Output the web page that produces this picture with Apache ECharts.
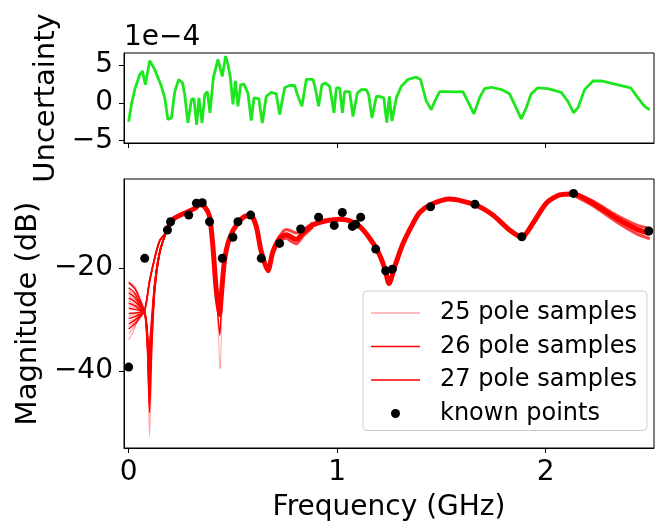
<!DOCTYPE html>
<html>
<head>
<meta charset="utf-8">
<script src="https://cdn.jsdelivr.net/npm/echarts@6/dist/echarts.min.js"></script>
<style>
  html, body { margin: 0; padding: 0; background: #fff; }
  #chart { width: 661px; height: 522px; }
</style>
</head>
<body>
<div id="chart"></div>
<script>
// top panel: uncertainty (x1e-4) vs frequency (GHz)
const uncertainty = [
    [0.000, -2.5], [0.013, -0.2], [0.029, 1.76], [0.053, 3.75], [0.066, 4.2], [0.080, 2.4],
    [0.101, 5.6], [0.125, 4.4], [0.157, 2.2], [0.173, 0.66], [0.188, -2.2], [0.205, -2.0],
    [0.221, 1.5], [0.240, 3.1], [0.258, 2.65], [0.269, 1.1], [0.284, -2.65], [0.301, 0.44],
    [0.313, 0.57], [0.326, -2.9], [0.337, 0.66], [0.352, -2.65], [0.365, 1.1], [0.377, 1.5],
    [0.390, -1.3], [0.406, 3.3], [0.428, 5.75], [0.436, 5.95], [0.449, 3.5], [0.465, 6.2],
    [0.476, 5.1], [0.488, 3.3], [0.500, -0.2], [0.512, 2.9], [0.524, -0.45], [0.537, 2.4],
    [0.553, 2.5], [0.572, 1.3], [0.588, -2.35], [0.601, 0.66], [0.624, 0.57], [0.641, -2.65],
    [0.660, 0.88], [0.684, 1.4], [0.708, 1.2], [0.724, -1.55], [0.748, 2.0], [0.772, 2.3],
    [0.796, 2.33], [0.809, 1.1], [0.831, -0.45], [0.852, 3.1], [0.884, 3.1], [0.895, 2.0],
    [0.911, -0.45], [0.927, 2.4], [0.943, 2.65], [0.964, 2.2], [0.985, -1.3], [0.996, 2.0],
    [1.012, 2.0], [1.025, -1.3], [1.036, 1.5], [1.060, 1.5], [1.076, -1.8], [1.084, -1.9],
    [1.097, 1.3], [1.116, 1.76], [1.140, 1.76], [1.151, 1.1], [1.167, -2.0], [1.188, 0.88],
    [1.212, 0.8], [1.224, 0.66], [1.238, -2.6], [1.250, 0.88], [1.263, -2.4], [1.284, 0.66],
    [1.308, 2.2], [1.340, 3.1], [1.380, 3.4], [1.400, 3.1], [1.428, 0.2], [1.452, -0.9],
    [1.468, 0.2], [1.492, 1.5], [1.524, 1.5], [1.564, 1.45], [1.603, 1.5], [1.627, 0.2],
    [1.656, -1.45], [1.683, 0.66], [1.707, 1.9], [1.740, 2.07], [1.788, 1.76], [1.827, 1.2],
    [1.851, -0.2], [1.883, -2.1], [1.907, -0.66], [1.931, 1.2], [1.963, 2.0], [2.011, 1.9],
    [2.075, 1.4], [2.107, 0.2], [2.134, -1.3], [2.155, -0.66], [2.187, 1.76], [2.227, 2.9],
    [2.267, 2.9], [2.347, 2.4], [2.408, 2.0], [2.443, 0.66], [2.475, -0.45], [2.499, -0.9]
];
const arrowFreq = 0.5;
const arrowFrom = -5.6;
const arrowTo = -2.9;

// bottom panel: magnitude (dB)
const knownPoints = [
    [0, -39.2], [0.077, -18.1], [0.186, -12.6], [0.201, -11.0], [0.288, -9.7], [0.325, -7.4],
    [0.353, -7.3], [0.388, -11.0], [0.449, -18.1], [0.5, -14.0], [0.524, -11.0], [0.585, -9.7],
    [0.636, -18.1], [0.724, -15.2], [0.825, -12.4], [0.911, -10.1], [0.986, -11.7], [1.025, -9.2],
    [1.073, -11.9], [1.089, -11.5], [1.113, -10.1], [1.185, -16.3], [1.233, -20.5], [1.265, -20.2],
    [1.448, -8.1], [1.661, -7.6], [1.886, -13.9], [2.134, -5.5], [2.495, -12.8]
];

// shared path of all samples above 0.18 GHz
const mainPath = [
    [0.18, -13.0], [0.2, -11.3], [0.22, -10.3], [0.27, -9.3], [0.317, -8.4], [0.34, -7.7],
    [0.365, -8.1], [0.388, -10.0], [0.404, -15.8], [0.42, -24.2], [0.436, -29.0], [0.444, -25.5],
    [0.46, -18.4], [0.484, -14.2], [0.524, -11.2], [0.564, -9.9], [0.588, -9.9], [0.612, -11.9],
    [0.636, -16.8], [0.668, -20.5], [0.692, -16.8], [0.724, -14.2], [0.756, -13.5], [0.804, -14.4],
    [0.836, -13.2], [0.884, -11.6], [0.948, -10.8], [1.012, -10.5], [1.06, -10.8], [1.108, -11.9],
    [1.156, -14.2], [1.196, -16.8], [1.228, -20.0], [1.249, -23.0], [1.276, -19.7], [1.316, -15.2],
    [1.364, -11.3], [1.396, -9.2], [1.448, -7.7], [1.54, -6.6], [1.661, -7.7], [1.747, -9.7],
    [1.827, -12.6], [1.886, -14.0], [1.939, -11.3], [2.003, -7.4], [2.067, -5.8], [2.134, -5.6],
    [2.227, -7.4], [2.339, -10.3], [2.435, -12.4], [2.5, -13.3]
];

// low-frequency starts of individual samples (the fan and the dip near 0.1 GHz)
const start25 = [
    [[0, -22.6], [0.03, -23.6], [0.055, -25.8], [0.075, -28.0], [0.1, -22.3], [0.125, -17.8], [0.149, -14.5]],
    [[0, -33.9], [0.02, -32.5], [0.045, -30.0], [0.075, -28.5], [0.1, -22.8], [0.125, -18.2], [0.149, -14.8]],
    [[0, -32.8], [0.03, -31.2], [0.055, -29.6], [0.075, -28.5], [0.09, -34.0], [0.1, -44.0], [0.11, -36.0], [0.125, -24.0], [0.149, -17.1]],
    [[0, -29.3], [0.03, -29.0], [0.055, -28.6], [0.075, -28.3], [0.09, -36.0], [0.1, -52.6], [0.112, -36.0], [0.125, -25.0], [0.149, -17.1]],
    [[0, -26.3], [0.03, -27.0], [0.055, -27.8], [0.075, -28.1], [0.09, -33.0], [0.098, -41.0], [0.108, -34.0], [0.125, -23.5], [0.149, -16.9]],
    [[0, -24.3], [0.03, -25.3], [0.055, -27.0], [0.075, -28.1], [0.1, -22.5], [0.125, -17.9], [0.149, -14.6]],
    [[0, -25.3], [0.03, -26.1], [0.055, -27.4], [0.075, -28.2], [0.089, -34.0], [0.099, -43.0], [0.109, -35.0], [0.125, -23.8], [0.149, -17.0]],
    [[0, -27.3], [0.03, -27.6], [0.055, -28.1], [0.075, -28.3], [0.088, -31.0], [0.096, -35.5], [0.106, -31.5], [0.125, -22.6], [0.149, -16.6]],
    [[0, -30.3], [0.03, -29.8], [0.055, -29.0], [0.075, -28.4], [0.09, -35.0], [0.099, -46.0], [0.11, -35.0], [0.125, -24.2], [0.149, -17.0]],
    [[0, -31.3], [0.03, -30.5], [0.055, -29.4], [0.075, -28.5], [0.1, -22.8], [0.125, -18.1], [0.149, -14.7]]
];
const start26 = [
    [[0, -22.8], [0.03, -24.0], [0.055, -26.2], [0.075, -28.0], [0.1, -22.4], [0.125, -17.9], [0.149, -14.6]],
    [[0, -24.8], [0.03, -25.7], [0.055, -27.2], [0.075, -28.2], [0.089, -33.0], [0.098, -40.0], [0.108, -33.5], [0.125, -23.2], [0.149, -16.9]],
    [[0, -26.8], [0.03, -27.3], [0.055, -28.0], [0.075, -28.3], [0.088, -32.0], [0.097, -38.0], [0.107, -33.0], [0.125, -23.0], [0.149, -16.8]],
    [[0, -28.8], [0.03, -28.7], [0.055, -28.5], [0.075, -28.3], [0.09, -34.0], [0.098, -42.0], [0.109, -34.0], [0.125, -23.6], [0.149, -16.9]],
    [[0, -30.8], [0.03, -30.1], [0.055, -29.2], [0.075, -28.4], [0.1, -22.7], [0.125, -18.1], [0.149, -14.7]]
];
const start27 = [
    [[0, -23.8], [0.03, -24.9], [0.055, -26.8], [0.075, -28.1], [0.088, -31.5], [0.096, -36.5], [0.106, -32.0], [0.125, -22.8], [0.149, -16.7]],
    [[0, -25.8], [0.03, -26.5], [0.055, -27.6], [0.075, -28.2], [0.09, -35.0], [0.099, -45.0], [0.11, -34.0], [0.125, -24.0], [0.149, -17.0]],
    [[0, -27.8], [0.03, -28.0], [0.055, -28.2], [0.075, -28.3], [0.1, -22.6], [0.125, -18.0], [0.149, -14.7]],
    [[0, -29.8], [0.03, -29.4], [0.055, -28.9], [0.075, -28.4], [0.089, -33.0], [0.097, -39.0], [0.108, -33.0], [0.125, -23.2], [0.149, -16.8]],
    [[0, -31.8], [0.03, -30.8], [0.055, -29.5], [0.075, -28.5], [0.09, -36.0], [0.1, -48.0], [0.111, -35.0], [0.125, -24.5], [0.149, -17.1]]
];

// places where the sample band spreads out
const dipPale = [[0.404, -15.8], [0.424, -27.0], [0.439, -39.5], [0.449, -26.0], [0.462, -18.4]];
const dip27 = [[0.404, -15.8], [0.422, -26.0], [0.437, -33.0], [0.447, -25.0], [0.46, -18.4]];
const bumpHigh = [[0.692, -16.5], [0.724, -13.8], [0.756, -12.5], [0.78, -12.8], [0.804, -13.2], [0.836, -12.6], [0.884, -11.2]];
const bumpLow = [[0.692, -17.2], [0.724, -14.6], [0.756, -14.2], [0.78, -14.8], [0.804, -15.3], [0.836, -13.8], [0.884, -12.0]];
const tailHigh = [[2.134, -5.3], [2.227, -7.0], [2.339, -9.7], [2.435, -11.6], [2.5, -12.3]];
const tailLow = [[2.134, -5.9], [2.227, -7.9], [2.339, -11.0], [2.435, -13.3], [2.5, -14.3]];

const font = 'DejaVu Sans';
const minus = v => String(v).replace('-', '\u2212');
// thin horizontal line inside a 49x9 box, for the legend
const lineIcon = 'path://M0,0 L0.01,0 L0,0.01 Z M0,3.7 L49,3.7 L49,5.3 L0,5.3 Z M49,9 L48.99,9 L49,8.99 Z';

let series = [];

series.push({
    type: 'line',
    xAxisIndex: 0,
    yAxisIndex: 0,
    data: uncertainty,
    symbol: 'none',
    lineStyle: { color: '#1ee61e', width: 2.8 },
    markLine: {
        silent: true,
        symbol: ['none', 'arrow'],
        symbolSize: [11, 12],
        label: { show: false },
        lineStyle: { color: '#000', width: 3, type: 'solid' },
        data: [[{ coord: [arrowFreq, arrowFrom] }, { coord: [arrowFreq, arrowTo] }]]
    }
});

function sampleLine(name, data, color, width) {
    return {
        type: 'line',
        name: name,
        xAxisIndex: 1,
        yAxisIndex: 1,
        data: data,
        symbol: 'none',
        smooth: 0.25,
        itemStyle: { color: color },
        lineStyle: { color: color, width: width }
    };
}

const pale = 'rgba(255,0,0,0.35)';
start25.forEach(s => series.push(sampleLine('25 pole samples', s.concat(mainPath), pale, 1.2)));
series.push(sampleLine('25 pole samples', dipPale, pale, 1));
series.push(sampleLine('26 pole samples', mainPath, '#ff0000', 5));
start26.forEach(s => series.push(sampleLine('26 pole samples', s.concat(mainPath), '#ff0000', 1.5)));
start27.forEach(s => series.push(sampleLine('27 pole samples', s.concat(mainPath), '#ff0000', 1.5)));
series.push(sampleLine('27 pole samples', dip27, '#ff0000', 1.5));
[bumpHigh, bumpLow, tailHigh, tailLow].forEach(s => series.push(sampleLine('27 pole samples', s, 'rgba(255,0,0,0.75)', 3)));

series.push({
    type: 'scatter',
    name: 'known points',
    xAxisIndex: 1,
    yAxisIndex: 1,
    data: knownPoints,
    symbolSize: 9,
    itemStyle: { color: '#000', opacity: 1 },
    z: 5
});

const axisLine = { show: true, onZero: false, lineStyle: { color: '#000', width: 1 } };

const option = {
    animation: false,
    backgroundColor: '#fff',
    title: {
        text: '1e\u22124',
        left: 124,
        top: 24,
        padding: 0,
        textStyle: { fontFamily: font, fontSize: 28, fontWeight: 'normal', color: '#000' }
    },
    grid: [
        { left: 124, top: 53, width: 530, height: 90, show: true, borderColor: '#000', borderWidth: 1, outerBoundsMode: 'none', containLabel: false },
        { left: 124, top: 179, width: 530, height: 269, show: true, borderColor: '#000', borderWidth: 1, outerBoundsMode: 'none', containLabel: false }
    ],
    xAxis: [{
        type: 'value',
        gridIndex: 0,
        min: -0.0225,
        max: 2.52,
        axisLine: axisLine,
        axisTick: { show: true, length: 5, customValues: [0, 1, 2], lineStyle: { color: '#000' } },
        axisLabel: { show: false },
        splitLine: { show: false }
    }, {
        type: 'value',
        gridIndex: 1,
        min: -0.0225,
        max: 2.52,
        axisLine: axisLine,
        axisTick: { show: true, length: 5, customValues: [0, 1, 2], lineStyle: { color: '#000' } },
        axisLabel: {
            customValues: [0, 1, 2],
            margin: 11,
            fontFamily: font,
            fontSize: 28,
            color: '#000',
            formatter: minus
        },
        splitLine: { show: false },
        name: 'Frequency (GHz)',
        nameLocation: 'middle',
        nameGap: 46,
        nameTextStyle: { fontFamily: font, fontSize: 28, color: '#000' }
    }],
    yAxis: [{
        type: 'value',
        gridIndex: 0,
        min: -5.3,
        max: 6.6,
        axisLine: axisLine,
        axisTick: { show: true, length: 5, customValues: [-5, 0, 5], lineStyle: { color: '#000' } },
        axisLabel: {
            customValues: [-5, 0, 5],
            margin: 11,
            fontFamily: font,
            fontSize: 28,
            color: '#000',
            formatter: minus
        },
        splitLine: { show: false },
        name: 'Uncertainty',
        nameLocation: 'middle',
        nameGap: 62,
        nameRotate: 90,
        nameTextStyle: { fontFamily: font, fontSize: 29, color: '#000' }
    }, {
        type: 'value',
        gridIndex: 1,
        min: -54.9,
        max: -2.7,
        axisLine: axisLine,
        axisTick: { show: true, length: 5, customValues: [-40, -20], lineStyle: { color: '#000' } },
        axisLabel: {
            customValues: [-40, -20],
            margin: 11,
            fontFamily: font,
            fontSize: 28,
            color: '#000',
            formatter: minus
        },
        splitLine: { show: false },
        name: 'Magnitude (dB)',
        nameLocation: 'middle',
        nameGap: 66,
        nameRotate: 90,
        nameTextStyle: { fontFamily: font, fontSize: 29, color: '#000' }
    }],
    legend: {
        orient: 'vertical',
        left: 363,
        top: 291,
        padding: [10, 10, 5, 8],
        itemWidth: 49,
        itemHeight: 9,
        itemGap: 9.5,
        backgroundColor: 'rgba(255,255,255,0.8)',
        borderColor: '#cccccc',
        borderWidth: 1,
        borderRadius: 4,
        textStyle: { fontFamily: font, fontSize: 24, color: '#000', padding: [0, 0, 0, 15] },
        data: [
            { name: '25 pole samples', icon: lineIcon, itemStyle: { color: pale } },
            { name: '26 pole samples', icon: lineIcon, itemStyle: { color: '#ff0000' } },
            { name: '27 pole samples', icon: lineIcon, itemStyle: { color: '#ff0000' } },
            { name: 'known points', icon: 'circle', itemStyle: { color: '#000' } }
        ]
    },
    series: series
};

const chart = echarts.init(document.getElementById('chart'));
chart.setOption(option);
</script>
</body>
</html>
